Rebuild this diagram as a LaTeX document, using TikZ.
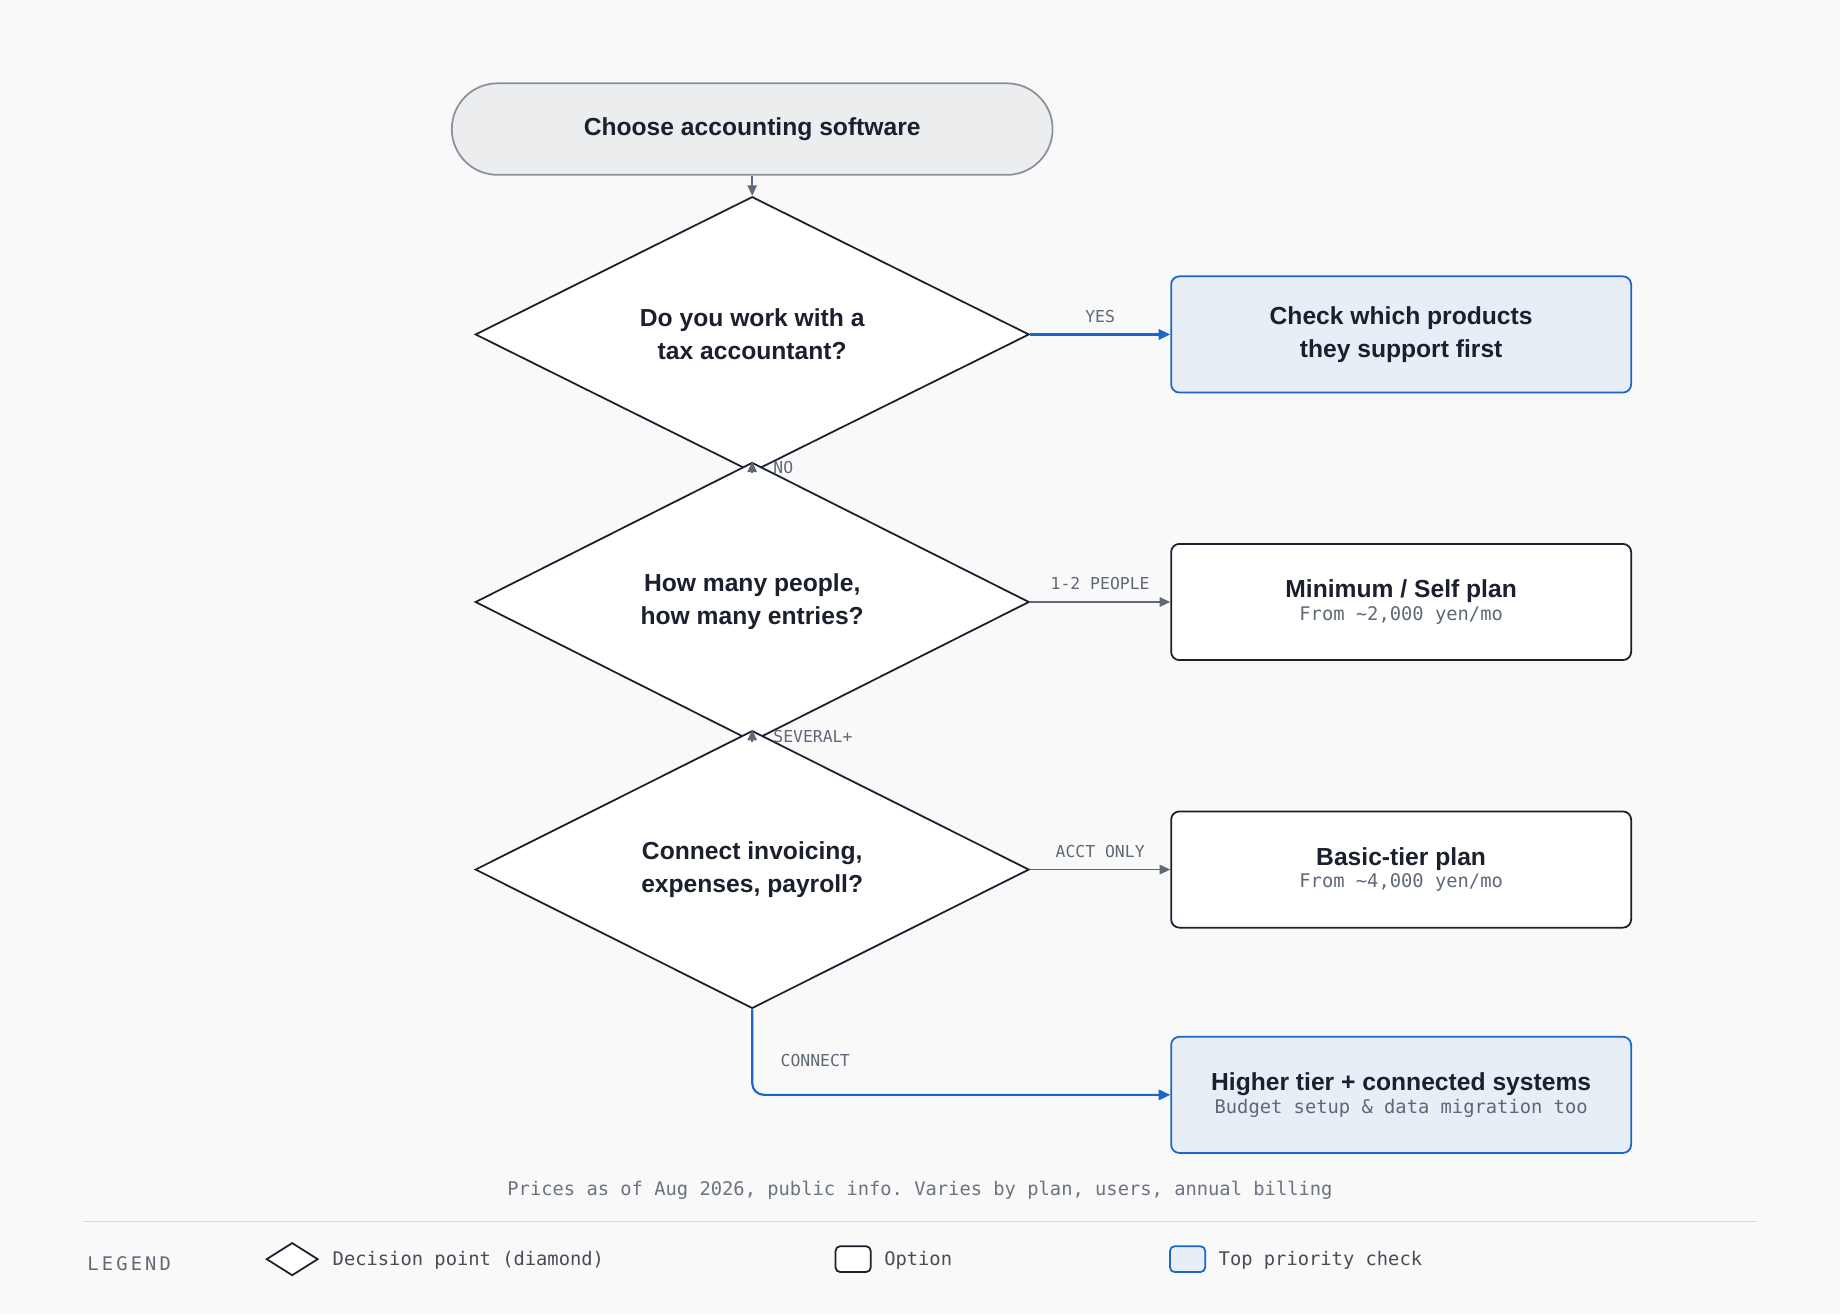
\documentclass[tikz,border=0pt]{standalone}
\usepackage{fontspec}
\setmainfont{Liberation Sans}
\setmonofont{DejaVu Sans Mono}
\usetikzlibrary{arrows.meta,shapes.geometric}
\definecolor{bgc}{HTML}{F9F9F9}
\definecolor{ink}{HTML}{1B1F2E}
\definecolor{edgegray}{HTML}{5F6877}
\definecolor{startfill}{HTML}{ECEDEF}
\definecolor{startline}{HTML}{8A919C}
\definecolor{bluefill}{HTML}{E8EEF6}
\definecolor{blueline}{HTML}{1A66CC}
\definecolor{muted}{HTML}{6B7280}
\newcommand{\headfont}{\fontsize{21}{28}\selectfont\bfseries}
\newcommand{\subfont}{\ttfamily\fontsize{16}{20}\selectfont\color{edgegray}}
\tikzset{
  decision/.style={diamond,draw=ink,fill=white,line width=1.5pt,inner sep=0pt,
    minimum width=472pt,minimum height=156pt,align=center,font=\headfont,text=ink},
  option/.style={rectangle,rounded corners=7pt,draw=ink,fill=white,line width=1.5pt,
    minimum width=392pt,minimum height=99pt,align=center,text=ink},
  priority/.style={option,draw=blueline,fill=bluefill},
  flow/.style={draw=edgegray,line width=1.4pt,-{Triangle[length=9pt,width=8pt]}},
  yesflow/.style={draw=blueline,line width=1.8pt,-{Triangle[length=10pt,width=9pt]}},
  elabel/.style={font=\ttfamily\fontsize{14}{16}\selectfont,text=edgegray},
  legtxt/.style={font=\ttfamily\fontsize{16}{20}\selectfont,text=ink!80,anchor=west}
}
\begin{document}
\begin{tikzpicture}[x=1pt,y=-1pt]
\fill[bgc] (0,0) rectangle (1568,1120);
\useasboundingbox (0,0) rectangle (1568,1120);

\node[draw=startline,fill=startfill,line width=1.5pt,rounded corners=39pt,
  minimum width=512pt,minimum height=78pt,text=ink,font=\headfont] (start) at (641,110) {Choose accounting software};

\node[decision] (q1) at (641,285) {Do you work with a\\tax accountant?};
\node[decision] (q2) at (641,513) {How many people,\\how many entries?};
\node[decision] (q3) at (641,741) {Connect invoicing,\\expenses, payroll?};

\node[priority,font=\headfont] (check) at (1194,285) {Check which products\\they support first};
\node[option] (self) at (1194,513) {{\headfont Minimum / Self plan}\\[2pt]{\subfont From \textasciitilde2,000 yen/mo}};
\node[option] (basic) at (1194,741) {{\headfont Basic-tier plan}\\[2pt]{\subfont From \textasciitilde4,000 yen/mo}};
\node[priority] (higher) at (1194,933) {{\headfont Higher tier + connected systems}\\[2pt]{\subfont Budget setup \& data migration too}};

\path[flow] (start) -- (q1.north);
\path[yesflow] (q1.east) -- node[elabel,above=6pt] {YES} (check);
\path[flow] (q1.south) -- node[elabel,right=14pt] {NO} (q2.north);
\path[flow] (q2.east) -- node[elabel,above=6pt] {1-2 PEOPLE} (self);
\path[flow] (q2.south) -- node[elabel,right=14pt] {SEVERAL+} (q3.north);
\path[flow] (q3.east) -- node[elabel,above=6pt] {ACCT ONLY} (basic);
\path[yesflow,rounded corners=10pt] (q3.south) |- node[elabel,pos=0.3,right=20pt] {CONNECT} (higher.west);

\node[font=\ttfamily\fontsize{16}{20}\selectfont,text=muted] (note) at (784,1014)
  {Prices as of Aug 2026, public info. Varies by plan, users, annual billing};
\draw[draw=black!15,line width=1pt] (71,1041) -- (1497,1041);

% legend
\node[font=\ttfamily\fontsize{16}{20}\selectfont,text=edgegray,anchor=west] (legend) at (71,1077) {L\,E\,G\,E\,N\,D};
\node[diamond,draw=ink,fill=white,line width=1.5pt,minimum width=44pt,minimum height=28pt,inner sep=0pt] (ldec) at (249,1073) {};
\node[legtxt] (ldectxt) at (280,1074) {Decision point (diamond)};
\node[rectangle,rounded corners=4pt,draw=ink,fill=white,line width=1.5pt,minimum width=30pt,minimum height=22pt] (lopt) at (727,1073) {};
\node[legtxt] (lopttxt) at (750,1074) {Option};
\node[rectangle,rounded corners=4pt,draw=blueline,fill=bluefill,line width=1.5pt,minimum width=30pt,minimum height=22pt] (lpri) at (1012,1073) {};
\node[legtxt] (lpritxt) at (1035,1074) {Top priority check};
\end{tikzpicture}
\end{document}
